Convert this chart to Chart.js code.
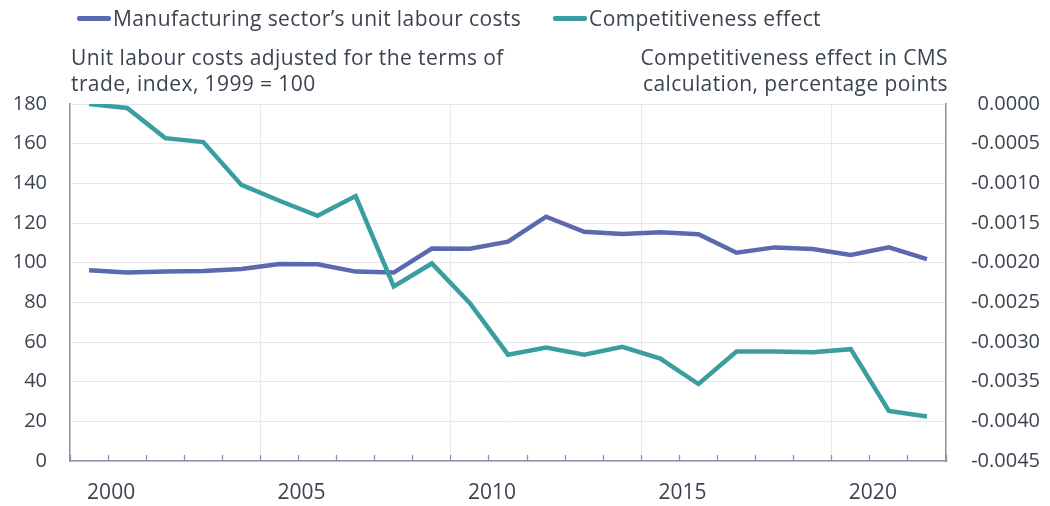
<!DOCTYPE html>
<html><head><meta charset="utf-8">
<script src="https://cdn.jsdelivr.net/npm/chart.js@4.4.1/dist/chart.umd.min.js"></script>
<style>
html,body{margin:0;padding:0;background:#fff;}
#wrap{position:relative;width:1050px;height:506px;font-family:'Open Sans',Lato,sans-serif;color:#3b4352;overflow:hidden;}
canvas{position:absolute;left:0;top:0;}
.leg{position:absolute;top:5px;height:26px;line-height:26px;font-size:21px;letter-spacing:0.4px;white-space:nowrap;display:flex;align-items:center;}
.leg i{display:inline-block;width:34px;height:5px;border-radius:2px;margin-right:2px;}
.ttl{position:absolute;top:44px;font-size:21px;letter-spacing:0.4px;line-height:26px;white-space:nowrap;}
</style></head>
<body><div id="wrap">
<canvas id="c" width="1050" height="506"></canvas>
<div class="leg" id="leg0" style="left:77px"><i></i><span></span></div>
<div class="leg" id="leg1" style="left:553px"><i></i><span></span></div>
<div class="ttl" id="tl" style="left:71px;text-align:left"></div>
<div class="ttl" id="tr" style="right:102px;text-align:right"></div>
</div>
<script>
const years = ['1999','2000','2001','2002','2003','2004','2005','2006','2007','2008','2009','2010','2011','2012','2013','2014','2015','2016','2017','2018','2019','2020','2021'];
const unitLabourCosts = [96.2,95.1,95.5,95.8,96.8,99.3,99.2,95.5,95.0,107.1,107.0,110.6,123.2,115.6,114.4,115.3,114.3,105.0,107.7,106.9,103.9,107.7,101.8];
const competitivenessEffect = [0.0000,-0.00005,-0.00043,-0.00048,-0.00102,-0.00122,-0.00141,-0.00116,-0.00230,-0.00201,-0.00251,-0.00316,-0.00307,-0.00316,-0.00306,-0.00321,-0.00353,-0.00312,-0.00312,-0.00313,-0.00309,-0.00387,-0.00394];
const seriesNames = ['Manufacturing sector\u2019s unit labour costs','Competitiveness effect'];
const xTickLabels = ['2000','2005','2010','2015','2020'];
const leftTitle = ['Unit labour costs adjusted for the terms of','trade, index, 1999 = 100'];
const rightTitle = ['Competitiveness effect in CMS','calculation, percentage points'];

const C_BLUE = '#5a69b0', C_TEAL = '#3a9ea0', TXT = '#3b4352', AXIS = '#8a93a3', GRID = '#e6e8ee';
const FONT = {family:"'Open Sans', Lato, sans-serif", size:20};

document.querySelector('#leg0 i').style.background = C_BLUE;
document.querySelector('#leg1 i').style.background = C_TEAL;
document.querySelector('#leg0 span').textContent = seriesNames[0];
document.querySelector('#leg1 span').textContent = seriesNames[1];
document.getElementById('tl').innerHTML = leftTitle.join('<br>');
document.getElementById('tr').innerHTML = rightTitle.join('<br>');

const gridIdx = [5,10,15,20];

new Chart(document.getElementById('c'), {
  type:'line',
  data:{
    labels:years,
    datasets:[
      {label:seriesNames[0], data:unitLabourCosts, yAxisID:'y', borderColor:C_BLUE, backgroundColor:C_BLUE, borderWidth:4.5, pointRadius:0, tension:0, order:1},
      {label:seriesNames[1], data:competitivenessEffect, yAxisID:'y1', borderColor:C_TEAL, backgroundColor:C_TEAL, borderWidth:4.5, pointRadius:0, tension:0, order:0}
    ]
  },
  options:{
    responsive:false, animation:false, devicePixelRatio:1,
    layout:{padding:{top:104,right:10,bottom:0,left:0}},
    plugins:{legend:{display:false}, tooltip:{enabled:false}, title:{display:false}},
    scales:{
      x:{
        type:'category', offset:true,
        grid:{offset:true, drawTicks:true, tickLength:-6, lineWidth:1,
          color:(c)=> gridIdx.includes(c.index) ? GRID : 'rgba(0,0,0,0)',
          tickColor:AXIS, tickWidth:1.3},
        border:{color:AXIS, width:1.5},
        ticks:{autoSkip:false, maxRotation:0, minRotation:0, padding:25, labelOffset:-16, font:{family:FONT.family, size:21}, color:TXT,
          callback:(v,i)=> xTickLabels.includes(years[i]) ? years[i] : ''},
        afterFit:(s)=>{s.height=45;}
      },
      y:{
        position:'left', min:0, max:180,
        ticks:{stepSize:20, padding:23, font:FONT, color:TXT},
        grid:{color:GRID, drawTicks:false, lineWidth:1},
        border:{color:AXIS, width:1.5},
        afterFit:(s)=>{s.width=70;}
      },
      y1:{
        position:'right', min:-0.0045, max:0,
        ticks:{stepSize:0.0005, crossAlign:'far', font:FONT, color:TXT, callback:(v)=> Number(v).toFixed(4)},
        grid:{drawOnChartArea:false, drawTicks:false},
        border:{color:AXIS, width:1.5},
        afterFit:(s)=>{s.width=94;}
      }
    }
  }
});
</script>
</body></html>
